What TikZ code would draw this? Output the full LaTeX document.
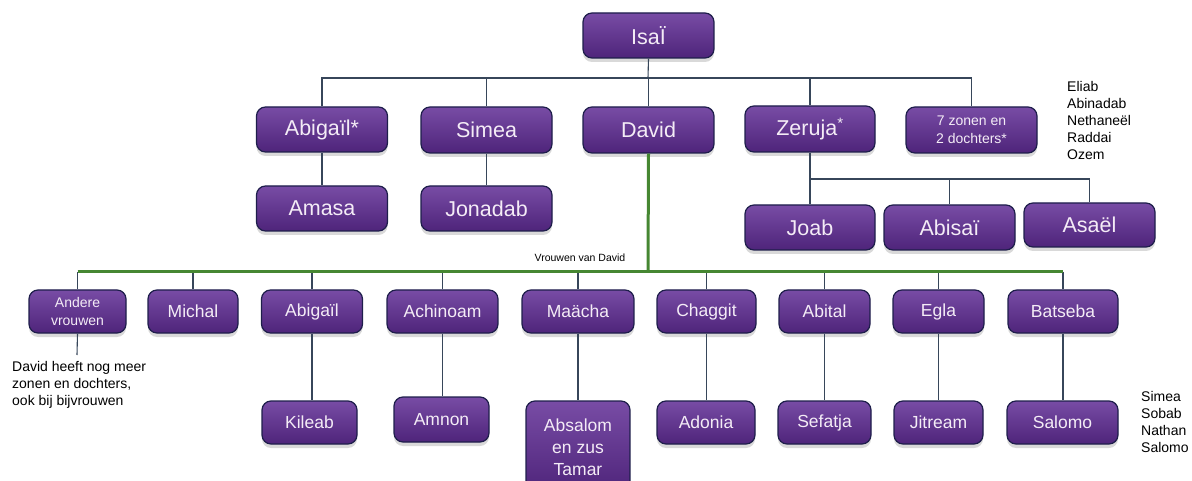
\documentclass[tikz,border=0pt]{standalone}
\usepackage{fontspec}
\setmainfont{Liberation Sans}
\usetikzlibrary{shadows}
\definecolor{boxtop}{RGB}{120,76,165}
\definecolor{boxbot}{RGB}{78,36,122}
\definecolor{boxline}{RGB}{30,30,75}
\definecolor{boxtext}{RGB}{244,236,246}
\definecolor{connc}{RGB}{55,70,90}
\definecolor{greenc}{RGB}{70,135,50}
\tikzset{
  pbox/.style={rounded corners=9pt, draw=boxline, line width=1.2pt,
    top color=boxtop, bottom color=boxbot, text=boxtext, inner sep=0pt,
    align=center, drop shadow={opacity=0.3, shadow xshift=0pt, shadow yshift=-4pt}},
  bigtxt/.style={font=\fontsize{21.5}{24}\selectfont},
  midtxt/.style={font=\fontsize{17.5}{22}\selectfont},
  smalltxt/.style={font=\fontsize{14}{18}\selectfont},
  conn/.style={draw=connc, line width=1.1pt},
  gconn/.style={draw=greenc, line width=3pt},
  note/.style={font=\fontsize{14}{17}\selectfont, align=left, inner sep=0pt, anchor=north west}
}
\begin{document}
\begin{tikzpicture}[x=1pt,y=-1pt]
\useasboundingbox (0,0) rectangle (1192,481);
% generation 1
\node[pbox,bigtxt,minimum width=131pt,minimum height=45pt] (isai) at (648.5,35.5) {IsaÏ};
% generation 2
\node[pbox,bigtxt,minimum width=131pt,minimum height=45pt] (abig1) at (322,129.5) {Abigaïl*};
\node[pbox,bigtxt,minimum width=131pt,minimum height=46pt] (simea) at (486.5,130) {Simea};
\node[pbox,bigtxt,minimum width=131pt,minimum height=46pt] (david) at (648.5,130) {David};
\node[pbox,bigtxt,minimum width=130pt,minimum height=46pt] (zeruja) at (810,129) {Zeruja\textsuperscript{*}};
\node[pbox,smalltxt,minimum width=131pt,minimum height=46pt] (zonen) at (971.5,130) {7 zonen en\\2 dochters*};
% generation 3 (cousins)
\node[pbox,bigtxt,minimum width=131pt,minimum height=45pt] (amasa) at (322,208.5) {Amasa};
\node[pbox,bigtxt,minimum width=131pt,minimum height=45pt] (jonadab) at (486.5,208.5) {Jonadab};
\node[pbox,bigtxt,minimum width=130pt,minimum height=45pt] (joab) at (810,227.5) {Joab};
\node[pbox,bigtxt,minimum width=131pt,minimum height=45pt] (abisai) at (949.5,227.5) {Abisaï};
\node[pbox,bigtxt,minimum width=131pt,minimum height=44pt] (asael) at (1089.5,225) {Asaël};
% wives
\node[pbox,smalltxt,minimum width=97pt,minimum height=43pt] (andere) at (77.5,311.5) {Andere\\vrouwen};
\node[pbox,midtxt,minimum width=90pt,minimum height=43pt] (michal) at (193,311.5) {Michal};
\node[pbox,midtxt,minimum width=101pt,minimum height=43pt] (abig2) at (312,311.5) {Abigaïl};
\node[pbox,midtxt,minimum width=111pt,minimum height=43pt] (achinoam) at (442.5,311.5) {Achinoam};
\node[pbox,midtxt,minimum width=112pt,minimum height=43pt] (maacha) at (578,311.5) {Maächa};
\node[pbox,midtxt,minimum width=99pt,minimum height=43pt] (chaggit) at (706.5,311.5) {Chaggit};
\node[pbox,midtxt,minimum width=91pt,minimum height=43pt] (abital) at (824.5,311.5) {Abital};
\node[pbox,midtxt,minimum width=91pt,minimum height=43pt] (egla) at (938.5,311.5) {Egla};
\node[pbox,midtxt,minimum width=110pt,minimum height=43pt] (batseba) at (1063,311.5) {Batseba};
% sons
\node[pbox,midtxt,minimum width=95pt,minimum height=43pt] (kileab) at (309.5,422.5) {Kileab};
\node[pbox,midtxt,minimum width=95pt,minimum height=45pt] (amnon) at (441.5,419.5) {Amnon};
\node[pbox,midtxt,minimum width=104pt,minimum height=92pt] (absalom) at (578,447) {Absalom\\en zus\\Tamar};
\node[pbox,midtxt,minimum width=98pt,minimum height=43pt] (adonia) at (706,422.5) {Adonia};
\node[pbox,midtxt,minimum width=93pt,minimum height=43pt] (sefatja) at (824.5,422.5) {Sefatja};
\node[pbox,midtxt,minimum width=89pt,minimum height=43pt] (jitream) at (938.5,422.5) {Jitream};
\node[pbox,midtxt,minimum width=111pt,minimum height=43pt] (salomo) at (1062.5,422.5) {Salomo};
% bus coordinates
\coordinate (bus1) at (648,78);
\coordinate (bus2) at (810,179);
\coordinate (bus3) at (648,272);
\coordinate (noteend) at (77,355);
% texts
\node[note] (eliab) at (1067,81) {Eliab\\Abinadab\\Nethaneël\\Raddai\\Ozem};
\node[note] (sons) at (1141,391) {Simea\\Sobab\\Nathan\\Salomo};
\node[note] (meer) at (12,361) {David heeft nog meer\\zonen en dochters,\\ook bij bijvrouwen};
\node[font=\fontsize{10.5}{12}\selectfont, inner sep=0pt] (vrouwen) at (580,258) {Vrouwen van David};
% connectors
\draw[conn] (isai.south) -- (bus1);
\draw[conn] (abig1.north) -- (abig1.north |- bus1) -- (zonen.north |- bus1) -- (zonen.north);
\draw[conn] (simea.north) -- (simea.north |- bus1);
\draw[conn] (david.north) -- (david.north |- bus1);
\draw[conn] (zeruja.north) -- (zeruja.north |- bus1);
\draw[conn] (abig1.south) -- (amasa.north);
\draw[conn] (simea.south) -- (jonadab.north);
\draw[conn] (zeruja.south) -- (bus2) -- (asael.north |- bus2) -- (asael.north);
\draw[conn] (bus2) -- (joab.north);
\draw[conn] (abisai.north |- bus2) -- (abisai.north);
\foreach \w in {andere,michal,abig2,achinoam,maacha,chaggit,abital,egla,batseba}
  \draw[conn] (\w.north |- bus3) -- (\w.north);
\draw[conn] (andere.south) -- (noteend);
\draw[conn] (abig2.south) -- (abig2.south |- kileab.north);
\draw[conn] (achinoam.south) -- (achinoam.south |- amnon.north);
\draw[conn] (maacha.south) -- (absalom.north);
\draw[conn] (chaggit.south) -- (chaggit.south |- adonia.north);
\draw[conn] (abital.south) -- (abital.south |- sefatja.north);
\draw[conn] (egla.south) -- (jitream.north);
\draw[conn] (batseba.south) -- (batseba.south |- salomo.north);
\draw[gconn] (david.south) -- (bus3);
\draw[gconn] (andere.north |- bus3) -- (batseba.north |- bus3);
\end{tikzpicture}
\end{document}
